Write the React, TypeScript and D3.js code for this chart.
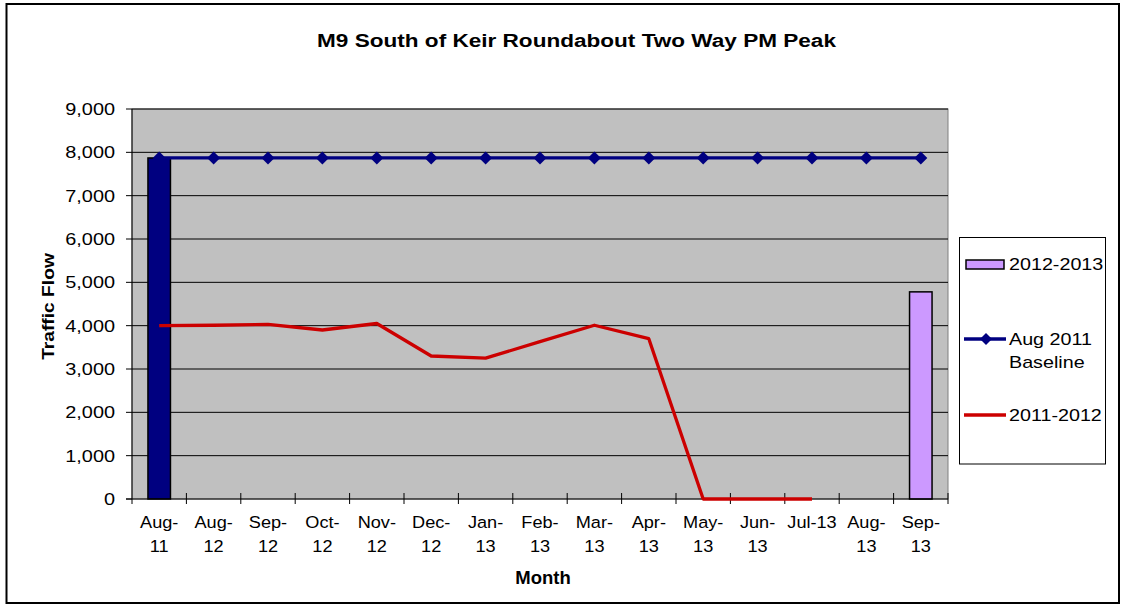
import React from "react";
import * as d3 from "d3";

const categories = ["Aug-11", "Aug-12", "Sep-12", "Oct-12", "Nov-12", "Dec-12", "Jan-13", "Feb-13", "Mar-13", "Apr-13", "May-13", "Jun-13", "Jul-13", "Aug-13", "Sep-13"];
const tickLabelLines: string[][] = [
  ["Aug-", "11"], ["Aug-", "12"], ["Sep-", "12"], ["Oct-", "12"], ["Nov-", "12"],
  ["Dec-", "12"], ["Jan-", "13"], ["Feb-", "13"], ["Mar-", "13"], ["Apr-", "13"],
  ["May-", "13"], ["Jun-", "13"], ["Jul-13"], ["Aug-", "13"], ["Sep-", "13"],
];
const baselineValues = [7870, 7870, 7870, 7870, 7870, 7870, 7870, 7870, 7870, 7870, 7870, 7870, 7870, 7870, 7870];
const series2011: (number | null)[] = [4000, 4010, 4030, 3900, 4050, 3300, 3250, 3630, 4010, 3700, 0, 0, 0, null, null];
const aug2011Bar: (number | null)[] = [7870, null, null, null, null, null, null, null, null, null, null, null, null, null, null];
const series2012: (number | null)[] = [null, null, null, null, null, null, null, null, null, null, null, null, null, null, 4780];
const yTicks = [0, 1000, 2000, 3000, 4000, 5000, 6000, 7000, 8000, 9000];

const W = 1121, H = 605;
const PL = 132, PR = 948, PT = 109, PB = 499;
const FONT = "'Liberation Sans', Arial, sans-serif";
const SX = 1.17;

type TProps = {
  x: number;
  y: number;
  sx?: number;
  anchor?: "start" | "middle" | "end";
  size: number;
  bold?: boolean;
  children: React.ReactNode;
};
function T({ x, y, sx = SX, anchor = "start", size, bold, children }: TProps) {
  return (
    <text
      transform={`translate(${x},${y}) scale(${sx},1)`}
      textAnchor={anchor}
      fontSize={size}
      fontWeight={bold ? "bold" : "normal"}
      fill="#000"
    >
      {children}
    </text>
  );
}

export default function App() {
  const x = d3.scaleBand<string>().domain(categories).range([PL, PR]).padding(0);
  const y = d3.scaleLinear().domain([0, 9000]).range([PB, PT]);
  const bw = x.bandwidth();
  const cx = (i: number) => (x(categories[i]) as number) + bw / 2;
  const barW = 22.5;
  const fmt = d3.format(",");

  const lineGen = d3
    .line<number | null>()
    .defined((d) => d !== null)
    .x((_, i) => cx(i))
    .y((d) => y(d as number));

  const diamond = (px: number, py: number, r: number) =>
    `M${px},${py - r}L${px + r},${py}L${px},${py + r}L${px - r},${py}Z`;

  return (
    <svg width={W} height={H} style={{ position: "absolute", left: 0, top: 0, fontFamily: FONT }}>
      <rect x={0} y={0} width={W} height={H} fill="#fff" />
      <rect x={6.5} y={4} width={1112.5} height={599} fill="#fff" stroke="#000" strokeWidth={2} />
      <T x={576.5} y={46.5} anchor="middle" size={18.5} bold sx={1.22}>
        M9 South of Keir Roundabout Two Way PM Peak
      </T>

      {/* plot area */}
      <rect x={PL} y={PT} width={PR - PL} height={PB - PT} fill="#C0C0C0" stroke="#808080" strokeWidth={1} />
      {yTicks.filter((t) => t > 0).map((t) => (
        <line key={"g" + t} x1={PL} x2={PR} y1={y(t)} y2={y(t)} stroke="#000" strokeWidth={1} />
      ))}

      {/* bars */}
      {aug2011Bar.map((v, i) =>
        v === null ? null : (
          <rect key={"a" + i} x={cx(i) - barW / 2} y={y(v)} width={barW} height={y(0) - y(v)} fill="#000080" stroke="#000" strokeWidth={1.5} />
        )
      )}
      {series2012.map((v, i) =>
        v === null ? null : (
          <rect key={"b" + i} x={cx(i) - barW / 2} y={y(v)} width={barW} height={y(0) - y(v)} fill="#CC99FF" stroke="#000" strokeWidth={1.5} />
        )
      )}

      {/* axes */}
      <line x1={PL} x2={PL} y1={PT} y2={PB} stroke="#000" strokeWidth={1} />
      <line x1={PL - 6} x2={PR} y1={PB} y2={PB} stroke="#000" strokeWidth={1} />
      {yTicks.map((t) => (
        <g key={"yt" + t}>
          <line x1={PL - 6} x2={PL} y1={y(t)} y2={y(t)} stroke="#000" strokeWidth={1} />
          <T x={115} y={y(t) + 6} anchor="end" size={17}>
            {fmt(t)}
          </T>
        </g>
      ))}
      {categories.map((c) => (
        <line key={"xt" + c} x1={(x(c) as number) + bw} x2={(x(c) as number) + bw} y1={PB - 6} y2={PB + 5} stroke="#000" strokeWidth={1} />
      ))}
      <line x1={PL} x2={PL} y1={PB} y2={PB + 5} stroke="#000" strokeWidth={1} />
      {tickLabelLines.map((lines, i) => (
        <g key={"xl" + i}>
          {lines.map((ln, j) => (
            <T key={j} x={cx(i)} y={528 + j * 24} anchor="middle" size={16.5} sx={1.1}>
              {ln}
            </T>
          ))}
        </g>
      ))}

      {/* lines */}
      <path d={lineGen(series2011) || ""} fill="none" stroke="#CC0000" strokeWidth={3.3} strokeLinejoin="round" />
      <path d={lineGen(baselineValues) || ""} fill="none" stroke="#000080" strokeWidth={3.3} />
      {baselineValues.map((v, i) => (
        <path key={"d" + i} d={diamond(cx(i), y(v), 6.5)} fill="#000080" />
      ))}

      {/* axis titles */}
      <T x={543} y={584} anchor="middle" size={18.5} bold sx={1}>
        Month
      </T>
      <text
        transform={`translate(54,${306.5}) rotate(-90) scale(1.13,1)`}
        textAnchor="middle"
        fontWeight="bold"
        fontSize={17}
        fill="#000"
      >
        Traffic Flow
      </text>

      {/* legend */}
      <rect x={959.5} y={237.5} width={146} height={226.5} fill="#fff" stroke="#000" strokeWidth={1} />
      <rect x={966} y={260} width={38} height={9} fill="#CC99FF" stroke="#000" strokeWidth={1.5} />
      <T x={1009} y={270} size={17} sx={1.16}>2012-2013</T>
      <line x1={964} x2={1006} y1={339} y2={339} stroke="#000080" strokeWidth={3.3} />
      <path d={diamond(986, 339, 6)} fill="#000080" />
      <T x={1009} y={345} size={17} sx={1.16}>Aug 2011</T>
      <T x={1009} y={368} size={17} sx={1.16}>Baseline</T>
      <line x1={964} x2={1006} y1={415} y2={415} stroke="#CC0000" strokeWidth={3.3} />
      <T x={1009} y={421} size={17} sx={1.16}>2011-2012</T>
    </svg>
  );
}
